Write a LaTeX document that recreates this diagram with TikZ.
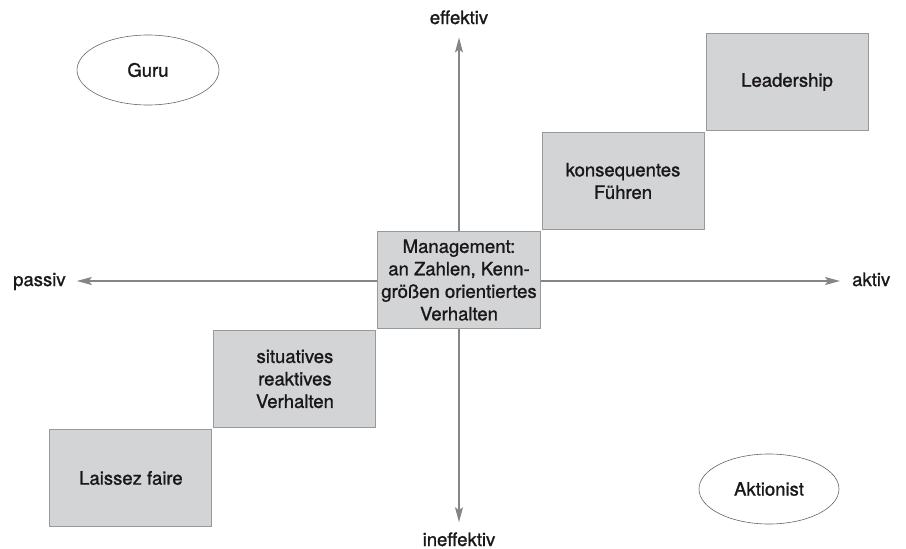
\documentclass[tikz,border=0pt]{standalone}
\usepackage{fontspec}
\setmainfont{TeX Gyre Heros}[FakeBold=1.2]
\usetikzlibrary{positioning,shapes.geometric,arrows.meta}
\definecolor{achsgrau}{HTML}{858585}
\definecolor{kastengrau}{HTML}{D3D4D6}
\definecolor{randgrau}{HTML}{999999}
\definecolor{schrift}{HTML}{1A1718}

\tikzset{
    stufe/.style={draw=randgrau, line width=1pt, fill=kastengrau, minimum width=162pt, minimum height=97pt, align=center, text=schrift},
    typ/.style={draw=black!60, line width=0.6pt, ellipse, minimum width=142pt, minimum height=70pt, text=schrift},
    achsentext/.style={inner sep=0pt, text=schrift},
    achse/.style={draw=achsgrau, line width=1.3pt, {Stealth[length=15pt,width=8pt,inset=3pt]}-{Stealth[length=15pt,width=8pt,inset=3pt]}}
}

\begin{document}
\begin{tikzpicture}[x=1pt, y=-1pt, font=\fontsize{18.5}{22.5}\selectfont]
    \useasboundingbox (0,0) rectangle (906,549);

    \node[achsentext, anchor=base] (effektiv) at (459,24) {effektiv};
    \node[achsentext, anchor=base] (ineffektiv) at (459,546) {ineffektiv};
    \node[achsentext, anchor=base west] (passiv) at (13,286) {passiv};
    \node[achsentext, anchor=base west] (aktiv) at (852,286) {aktiv};

    \draw[achse, shorten <=10pt, shorten >=13pt] (ineffektiv.north) -- (effektiv.south);
    \draw[achse, shorten <=11pt, shorten >=12pt] (passiv.east |- 0,281) -- (aktiv.west |- 0,281);

    \node[stufe] (mgmt) at (459,280) {Management:\\an Zahlen, Kenn-\\größen orientiertes\\Verhalten};
    \node[stufe, below left=1pt and 1pt of mgmt] (situativ) {situatives\\reaktives\\Verhalten};
    \node[stufe, below left=1pt and 1pt of situativ] (laissez) {Laissez faire};
    \node[stufe, above right=1pt and 1pt of mgmt] (konsequent) {konsequentes\\Führen};
    \node[stufe, above right=1pt and 1pt of konsequent] (leader) {Leadership};

    \node[typ] (guru) at (148,70) {Guru};
    \node[typ, minimum width=140pt] (aktionist) at (769,489) {Aktionist};
\end{tikzpicture}
\end{document}
